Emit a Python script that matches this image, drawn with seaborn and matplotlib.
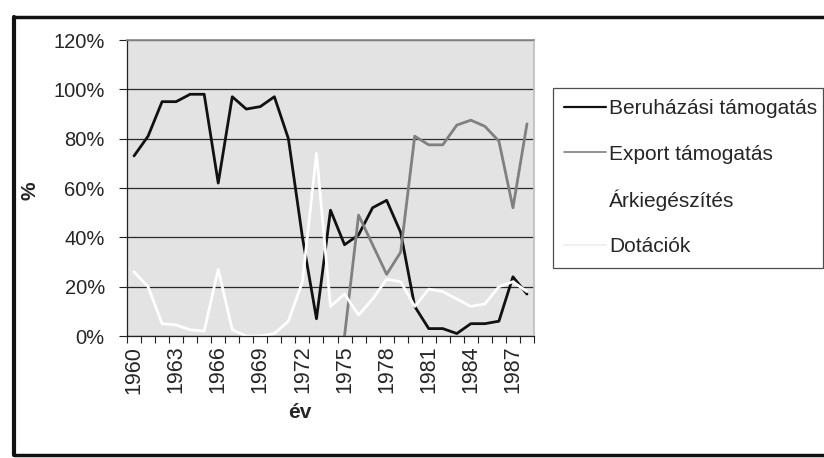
import numpy as np
import pandas as pd
import seaborn as sns
import matplotlib.pyplot as plt
from matplotlib.lines import Line2D
from matplotlib.ticker import FixedLocator, FuncFormatter

# adatok (leolvasva az abrarol, %)
evek = list(range(1960, 1989))
beruhazasi = [73, 81, 95, 95, 98, 98, 62, 97, 92, 93, 97, 80, 40, 7, 51, 37, 41, 52, 55, 42,
              12, 3, 3, 1, 5, 5, 6, 24, 17]
export = [np.nan] * 15 + [0, 49, 37, 25, 34, 81, 77.5, 77.5, 85.5, 87.5, 85, 79, 52, 86]
dotaciok = [26, 20, 5, 4.5, 2.5, 2, 27, 2.5, 0, 0, 1, 6, 22, 74, 12, 17, 8.5, 15, 23, 22,
            12, 19, 18, 15, 12, 13, 20, 22, 18]
tick_evek = [1960, 1963, 1966, 1969, 1972, 1975, 1978, 1981, 1984, 1987]
sorozatok = ["Beruházási támogatás", "Export támogatás", "Árkiegészítés", "Dotációk"]
szinek = {"Beruházási támogatás": "#111111", "Export támogatás": "#808080",
          "Árkiegészítés": "#ffffff", "Dotációk": "#ffffff"}

df = pd.DataFrame({"ev": evek, sorozatok[0]: beruhazasi, sorozatok[1]: export, sorozatok[3]: dotaciok})
hosszu = df.melt(id_vars="ev", var_name="sorozat", value_name="ertek").dropna()

sns.set_theme(style="white")
plt.rcParams["font.family"] = ["Liberation Sans", "DejaVu Sans"]

fig = plt.figure(figsize=(8.24, 4.58), dpi=100)
ax = fig.add_axes([127 / 824, 1 - 336 / 458, (534 - 127) / 824, (336 - 40) / 458])
ax.set_facecolor("#e3e3e3")

sns.lineplot(data=hosszu, x="ev", y="ertek", hue="sorozat",
             hue_order=[sorozatok[0], sorozatok[1], sorozatok[3]],
             palette=szinek, linewidth=2, estimator=None, legend=False, ax=ax)

ax.set_xlim(1959.5, 1988.5)
ax.set_ylim(0, 120)
ax.set_yticks(range(0, 121, 20))
ax.yaxis.set_major_formatter(FuncFormatter(lambda v, p: f"{int(v)}%"))
ax.yaxis.grid(True, color="#2a2a2a", linewidth=0.9)
ax.set_axisbelow(True)

ax.xaxis.set_major_locator(FixedLocator(tick_evek))
ax.set_xticklabels([str(e) for e in tick_evek], rotation=90)
ax.xaxis.set_minor_locator(FixedLocator(np.arange(1959.5, 1989, 1)))
ax.tick_params(axis="x", which="major", length=0, pad=7, labelsize=15.5)
ax.tick_params(axis="x", which="minor", length=5, width=0.8, color="#222222", direction="out", bottom=True)
ax.tick_params(axis="y", length=6, width=0.8, color="#222222", direction="out", left=True, pad=10, labelsize=14.5)

for s in ["left", "bottom"]:
    ax.spines[s].set_color("#222222")
    ax.spines[s].set_linewidth(0.9)
ax.spines["top"].set_color("#8c8c8c")
ax.spines["right"].set_color("#c0c0c0")

ax.set_ylabel("%", fontsize=15, fontweight="bold")
ax.yaxis.set_label_coords(-0.215, 0.49)
ax.set_xlabel("év", fontsize=15, fontweight="bold")
ax.xaxis.set_label_coords(0.425, -0.225)

kezelok = [Line2D([], [], color="#111111", lw=1.6),
           Line2D([], [], color="#808080", lw=1.2),
           Line2D([], [], color="#ffffff", lw=1.2),
           Line2D([], [], color="#eeeeee", lw=1.2)]
leg = fig.legend(kezelok, sorozatok, loc="upper left",
                 bbox_to_anchor=(553 / 824, 1 - 265 / 458, (823 - 553) / 824, (265 - 88) / 458),
                 mode="expand", fontsize=15, frameon=True, fancybox=False, edgecolor="#222222",
                 handlelength=2.0, handletextpad=0.15, labelspacing=1.25, borderpad=0.55,
                 borderaxespad=0)
leg.get_frame().set_linewidth(0.9)

# kulso keret
fig.add_artist(Line2D([14 / 824, 1], [1 - 17 / 458, 1 - 17 / 458], color="#111111", lw=2.5))
fig.add_artist(Line2D([14 / 824, 14 / 824], [1 - 17 / 458, 1 - 455 / 458], color="#111111", lw=3))
fig.add_artist(Line2D([14 / 824, 1], [1 - 455 / 458, 1 - 455 / 458], color="#111111", lw=2.5))

fig.savefig("out.png", dpi=100)
